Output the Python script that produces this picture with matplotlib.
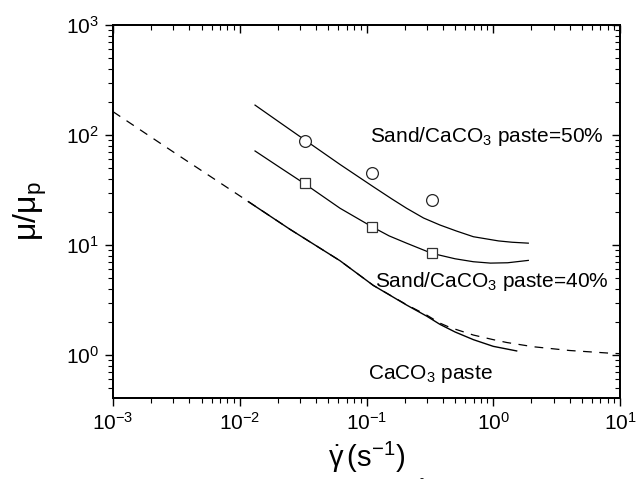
import matplotlib
matplotlib.use('Agg')
import matplotlib.pyplot as plt

plt.rcParams['font.family'] = ['Liberation Sans', 'DejaVu Sans']
plt.rcParams['mathtext.fontset'] = 'custom'
plt.rcParams['mathtext.rm'] = 'Liberation Sans'
plt.rcParams['mathtext.it'] = 'Liberation Sans'
plt.rcParams['mathtext.bf'] = 'Liberation Sans:bold'
plt.rcParams['mathtext.default'] = 'regular'
plt.rcParams['axes.unicode_minus'] = False

# measured points, sand/CaCO3 paste = 50% (circles) and 40% (squares)
shear_pts = [0.033, 0.11, 0.33]
visc_50 = [88.8, 45.4, 25.6]
visc_40 = [36.4, 14.7, 8.4]

# model curves
shear_50 = [0.0132, 0.0209, 0.0327, 0.0618, 0.113, 0.158, 0.207, 0.282, 0.38,
            0.513, 0.697, 1.1, 1.41, 1.89]
fit_50 = [187, 129, 90, 54, 33.9, 26.3, 21.6, 17.6, 15.2,
          13.4, 11.9, 10.9, 10.6, 10.4]

shear_40 = [0.0132, 0.0209, 0.0327, 0.0618, 0.11, 0.151, 0.207, 0.327, 0.5,
            0.697, 0.95, 1.3, 1.89]
fit_40 = [71.6, 50.4, 35.9, 21.6, 14.7, 12.1, 10.4, 8.41, 7.5,
          7.05, 6.85, 6.9, 7.25]

shear_paste = [0.01168, 0.0249, 0.0618, 0.113, 0.207, 0.3, 0.38, 0.5, 0.697, 1.0, 1.53]
fit_paste = [24.8, 13.9, 7.2, 4.3, 2.85, 2.25, 1.9, 1.62, 1.38, 1.2, 1.09]

# dashed curve for the paste
shear_dash = [0.001, 0.003, 0.01, 0.0249, 0.0618, 0.113, 0.207, 0.3, 0.38, 0.456,
              0.697, 1.0, 1.28, 2.07, 4.0, 8.85, 10.0]
dash_paste = [163, 70, 28, 13.9, 7.2, 4.3, 2.87, 2.3, 1.95, 1.78,
              1.52, 1.38, 1.3, 1.19, 1.1, 1.035, 1.03]

fig = plt.figure(figsize=(6.44, 4.88), dpi=100)
ax = fig.add_axes([113/644, 1-398/488, 507/644, 373/488])

ax.plot(shear_dash, dash_paste, color='black', lw=0.9, dashes=(7, 6))
ax.plot(shear_paste, fit_paste, color='black', lw=1.0)
ax.plot(shear_50, fit_50, color='black', lw=0.9)
ax.plot(shear_40, fit_40, color='black', lw=0.9)
ax.plot(shear_pts, visc_50, 'o', ms=8.5, mfc='white', mec='0.15', mew=0.9)
ax.plot(shear_pts, visc_40, 's', ms=7.5, mfc='white', mec='0.2', mew=0.9)

ax.set_xscale('log')
ax.set_yscale('log')
ax.set_xlim(1e-3, 1e1)
ax.set_ylim(0.407, 1e3)

ax.text(0.106, 86, 'Sand/CaCO$_3$ paste=50%', fontsize=15, va='baseline')
ax.text(0.1167, 4.12, 'Sand/CaCO$_3$ paste=40%', fontsize=15, va='baseline')
ax.text(0.103, 0.605, 'CaCO$_3$ paste', fontsize=15, va='baseline')

ax.tick_params(which='major', direction='out', length=6, width=1, labelsize=15, pad=4)
ax.tick_params(which='minor', direction='out', length=3.5, width=0.8)

ax.set_xlabel(r'$\dot{\gamma}\,(s^{-1})$', fontsize=21, labelpad=4)
ax.set_ylabel('μ/μ$_p$', fontsize=23, labelpad=12)

# inward ticks on the top and right
axr = ax.twinx()
axr.set_yscale('log')
axr.set_ylim(ax.get_ylim())
axr.tick_params(which='major', direction='in', length=6, width=1, labelright=False)
axr.tick_params(which='minor', direction='in', length=3.5, width=0.8)
axt = ax.twiny()
axt.set_xscale('log')
axt.set_xlim(ax.get_xlim())
axt.tick_params(which='major', direction='in', length=6, width=1, labeltop=False)
axt.tick_params(which='minor', direction='in', length=3.5, width=0.8)

for a in (ax, axr, axt):
    for s in a.spines.values():
        s.set_linewidth(1.2)

fig.text(421/644, 1-479/488, '-', fontsize=9, ha='center', va='center')

fig.savefig('out.png', dpi=100)
